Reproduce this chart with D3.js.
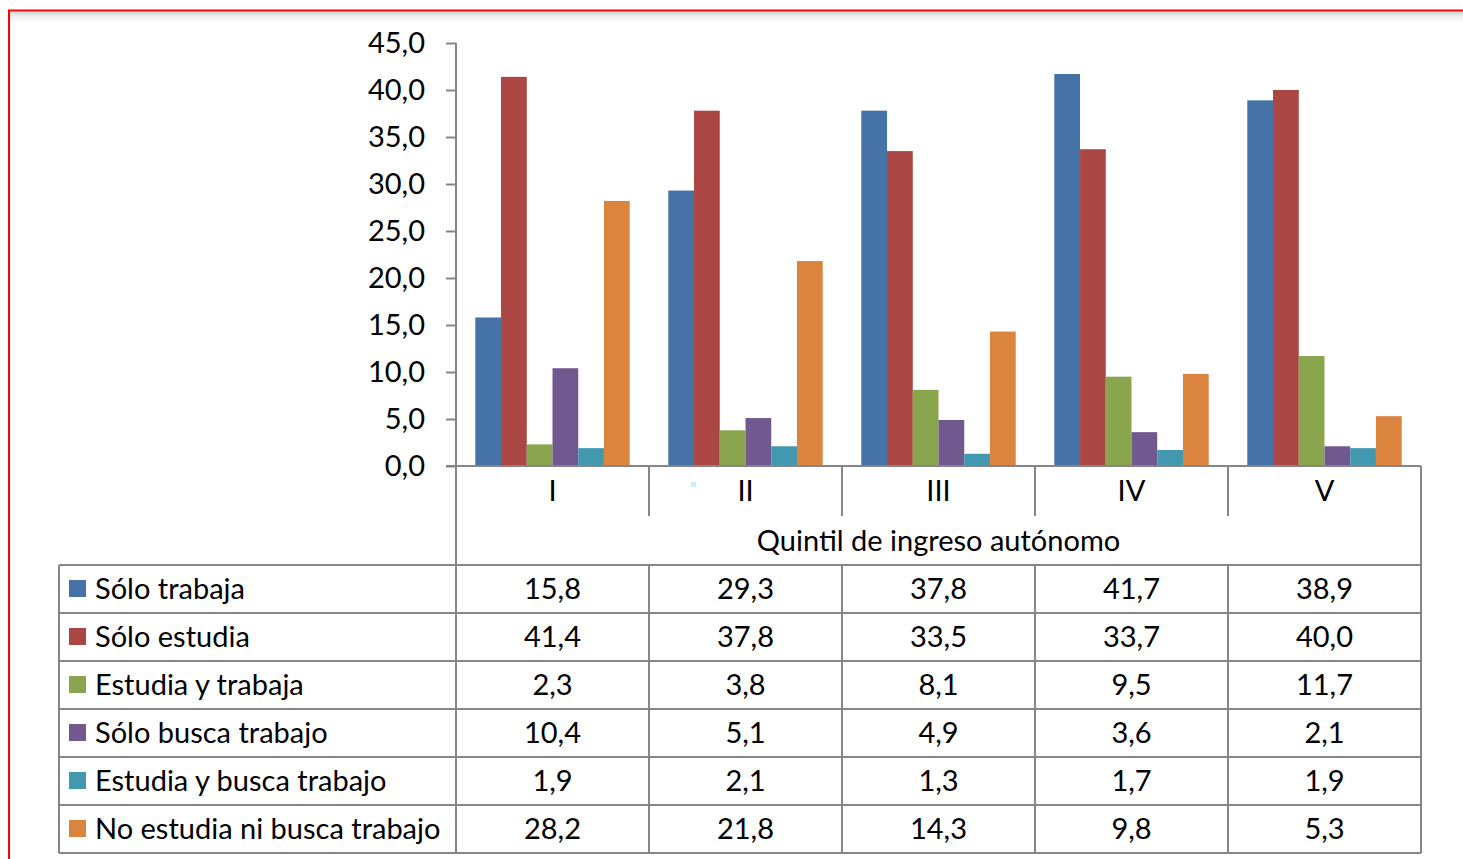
<!DOCTYPE html>
<html><head><meta charset="utf-8">
<script src="https://cdn.jsdelivr.net/npm/d3@7"></script>
<style>html,body{margin:0;padding:0;background:#fff;overflow:hidden}</style>
</head><body>
<svg id="c" width="1463" height="859"></svg>
<script>
const categories = ["I","II","III","IV","V"];
const seriesNames = ["Sólo trabaja","Sólo estudia","Estudia y trabaja","Sólo busca trabajo","Estudia y busca trabajo","No estudia ni busca trabajo"];
const soloTrabaja = [15.8,29.3,37.8,41.7,38.9];
const soloEstudia = [41.4,37.8,33.5,33.7,40.0];
const estudiaYTrabaja = [2.3,3.8,8.1,9.5,11.7];
const soloBuscaTrabajo = [10.4,5.1,4.9,3.6,2.1];
const estudiaYBuscaTrabajo = [1.9,2.1,1.3,1.7,1.9];
const noEstudiaNiBusca = [28.2,21.8,14.3,9.8,5.3];
const yTicks = [0,5,10,15,20,25,30,35,40,45];
const xTitle = "Quintil de ingreso autónomo";
const colors = ["#4572A7","#AA4643","#89A54E","#71588F","#4198AF","#DB843D"];

const series = [soloTrabaja,soloEstudia,estudiaYTrabaja,soloBuscaTrabajo,estudiaYBuscaTrabajo,noEstudiaNiBusca];
const FONT = "Lato, 'Open Sans', sans-serif";
const FS = 29;
const svg = d3.select("#c");
const gray = "#868686";

// frame
const defs = svg.append("defs");
const gr = defs.append("linearGradient").attr("id","sh").attr("x1",0).attr("y1",0).attr("x2",0).attr("y2",1);
gr.append("stop").attr("offset","0%").attr("stop-color","#d8d8d8");
gr.append("stop").attr("offset","100%").attr("stop-color","#ffffff").attr("stop-opacity",0);
svg.append("rect").attr("x",10).attr("y",12).attr("width",1460).attr("height",14).attr("fill","url(#sh)");
svg.append("path").attr("d","M9,870 V10.5 H1470").attr("fill","none").attr("stroke","#ff0000").attr("stroke-width",2);

const x0 = 456, x1 = 1421, yTop = 43, yBase = 466;
const x = d3.scaleBand().domain(categories).range([x0,x1]).paddingInner(0).paddingOuter(0);
const y = d3.scaleLinear().domain([0,45]).range([yBase,yTop]);
const xs = d3.scaleBand().domain(d3.range(series.length)).range([0,x.bandwidth()]).paddingInner(0).paddingOuter(0.75);

// bars
categories.forEach((c,ci)=>{
  series.forEach((s,si)=>{
    svg.append("rect")
      .attr("x", x(c)+xs(si)).attr("width", xs.bandwidth())
      .attr("y", y(s[ci])).attr("height", y(0)-y(s[ci]))
      .attr("fill", colors[si]);
  });
});

// y axis
const ya = d3.axisLeft(y).tickValues(yTicks).tickSize(10).tickPadding(21)
  .tickFormat(d=>d3.format(".1f")(d).replace(".",","));
const yg = svg.append("g").attr("transform",`translate(${x0},0)`).call(ya);
yg.selectAll(".tick line").attr("stroke",gray).attr("stroke-width",2);
yg.selectAll(".tick text").attr("font-family",FONT).attr("font-size",FS).attr("fill","#000");
yg.select(".domain").attr("stroke",gray).attr("stroke-width",2).attr("d",`M0,${yTop}V${yBase}`);

// baseline
svg.append("line").attr("x1",x0-10).attr("x2",x1).attr("y1",yBase).attr("y2",yBase).attr("stroke",gray).attr("stroke-width",2);

// category row
const catBottom = 516, titleBottom = 565, rowH = 48;
categories.forEach((c,i)=>{
  svg.append("text").attr("x",x(c)+x.bandwidth()/2).attr("y",(yBase+catBottom)/2).attr("dy","0.35em")
    .attr("text-anchor","middle").attr("font-family",FONT).attr("font-size",FS).text(c);
});
d3.range(categories.length+1).forEach(i=>{
  const xx = x0 + i*x.bandwidth();
  svg.append("line").attr("x1",xx).attr("x2",xx).attr("y1",yBase).attr("y2", (i===0||i===categories.length)?titleBottom:catBottom)
    .attr("stroke",gray).attr("stroke-width",2);
});
svg.append("text").attr("x",(x0+x1)/2).attr("y",(catBottom+titleBottom)/2).attr("dy","0.35em")
  .attr("text-anchor","middle").attr("font-family",FONT).attr("font-size",FS).text(xTitle);

// tiny artifact
svg.append("rect").attr("x",691).attr("y",482).attr("width",5).attr("height",5).attr("fill","#c6efff");

// table
const tLeft = 59;
const nRows = series.length;
for(let r=0;r<=nRows;r++){
  const yy = titleBottom + r*rowH;
  svg.append("line").attr("x1",tLeft).attr("x2",x1).attr("y1",yy).attr("y2",yy).attr("stroke",gray).attr("stroke-width",2);
}
[tLeft].concat(d3.range(categories.length+1).map(i=>x0+i*x.bandwidth())).forEach(xx=>{
  svg.append("line").attr("x1",xx).attr("x2",xx).attr("y1",titleBottom).attr("y2",titleBottom+nRows*rowH).attr("stroke",gray).attr("stroke-width",2);
});
const fmt = v => d3.format(".1f")(v).replace(".",",");
series.forEach((s,si)=>{
  const cy = titleBottom + si*rowH + rowH/2;
  svg.append("rect").attr("x",69).attr("y",cy-9).attr("width",17).attr("height",17).attr("fill",colors[si]);
  svg.append("text").attr("x",95).attr("y",cy).attr("dy","0.35em").attr("font-family",FONT).attr("font-size",FS).text(seriesNames[si]);
  s.forEach((v,ci)=>{
    svg.append("text").attr("x",x(categories[ci])+x.bandwidth()/2).attr("y",cy).attr("dy","0.35em")
      .attr("text-anchor","middle").attr("font-family",FONT).attr("font-size",FS).text(fmt(v));
  });
});
</script>
</body></html>
